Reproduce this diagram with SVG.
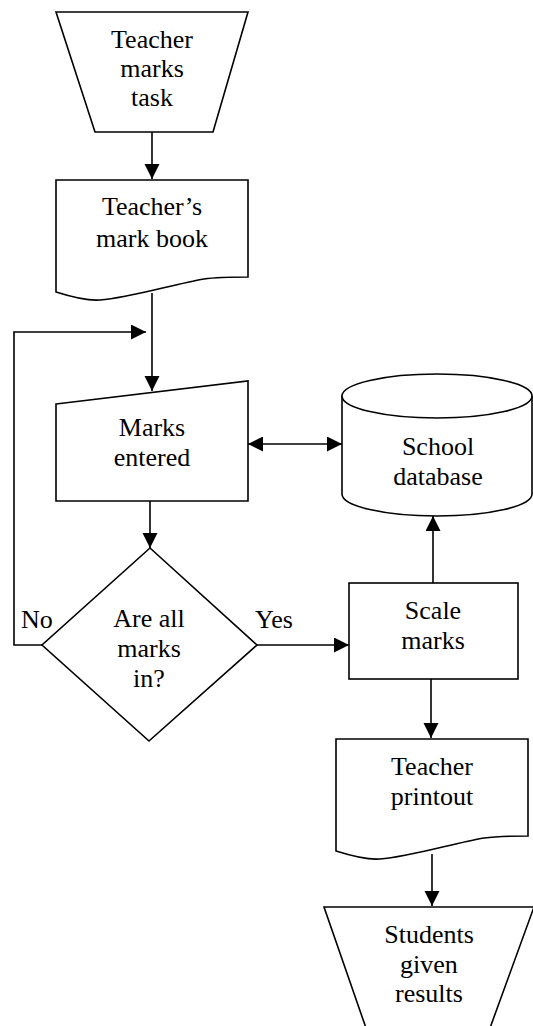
<svg xmlns="http://www.w3.org/2000/svg" width="533" height="1026" viewBox="0 0 533 1026">
  <style>
    .shape { fill: #fff; stroke: #000; stroke-width: 1.6; stroke-linejoin: miter; }
    .line { fill: none; stroke: #000; stroke-width: 1.6; }
    .arrow { marker-end: url(#head); }
    text { font-family: "Liberation Serif", "Times New Roman", serif; font-size: 26px; fill: #000; text-anchor: middle; }
    .lbl { text-anchor: start; }
  </style>
  <defs>
    <marker id="head" markerUnits="userSpaceOnUse" markerWidth="16" markerHeight="16" refX="15" refY="7.5" orient="auto">
      <path d="M0,0 L15,7.5 L0,15 Z" fill="#000"/>
    </marker>
    <marker id="tail" markerUnits="userSpaceOnUse" markerWidth="16" markerHeight="16" refX="0" refY="7.5" orient="auto">
      <path d="M15,0 L0,7.5 L15,15 Z" fill="#000"/>
    </marker>
    <path id="doc" d="M0,0 H192 V97 C177,97 162,97 148,99 C118,104 74,118 44,120 C32,121 19,118 0,112 Z"/>
  </defs>

  <!-- connectors -->
  <g id="connectors">
    <line class="line arrow" x1="152" y1="132" x2="152" y2="179"/>
    <line class="line arrow" x1="152" y1="293" x2="152" y2="391"/>
    <polyline class="line arrow" points="42,645 14,645 14,332 146,332"/>
    <line class="line" x1="248" y1="444" x2="342" y2="444" marker-start="url(#tail)" marker-end="url(#head)"/>
    <line class="line arrow" x1="150" y1="501" x2="150" y2="548"/>
    <line class="line arrow" x1="257" y1="645" x2="349" y2="645"/>
    <line class="line arrow" x1="433" y1="583" x2="433" y2="516"/>
    <line class="line arrow" x1="431" y1="679" x2="431" y2="738"/>
    <line class="line arrow" x1="432" y1="854" x2="432" y2="906"/>
    <text class="lbl" x="21" y="628">No</text>
    <text class="lbl" x="255" y="628">Yes</text>
  </g>

  <!-- manual operation: start -->
  <g id="teacher-marks-task">
    <polygon class="shape" points="56,12 248,12 213,132 95,132"/>
    <text x="152" y="48">Teacher</text>
    <text x="152" y="77">marks</text>
    <text x="152" y="106">task</text>
  </g>

  <!-- document -->
  <g id="mark-book">
    <use href="#doc" class="shape" transform="translate(56,180)"/>
    <text x="152" y="215">Teacher’s</text>
    <text x="152" y="247">mark book</text>
  </g>

  <!-- manual input -->
  <g id="marks-entered">
    <polygon class="shape" points="56,404 248,381 248,501 56,501"/>
    <text x="152" y="436">Marks</text>
    <text x="152" y="466">entered</text>
  </g>

  <!-- stored data -->
  <g id="school-database">
    <path class="shape" d="M342,396 V494 A95,22 0 0 0 532,494 V396"/>
    <ellipse class="shape" cx="437" cy="396" rx="95" ry="22"/>
    <text x="438" y="455">School</text>
    <text x="438" y="485">database</text>
  </g>

  <!-- decision -->
  <g id="all-marks-in">
    <polygon class="shape" points="150,548 257,645 149,741 42,645"/>
    <text x="149" y="627">Are all</text>
    <text x="149" y="657">marks</text>
    <text x="149" y="687">in?</text>
  </g>

  <!-- process -->
  <g id="scale-marks">
    <rect class="shape" x="349" y="583" width="169" height="96"/>
    <text x="433" y="619">Scale</text>
    <text x="433" y="649">marks</text>
  </g>

  <!-- document -->
  <g id="teacher-printout">
    <use href="#doc" class="shape" transform="translate(336,739)"/>
    <text x="432" y="775">Teacher</text>
    <text x="432" y="805">printout</text>
  </g>

  <!-- manual operation: end -->
  <g id="students-given-results">
    <polygon class="shape" points="324,907 534,907 490,1028 366,1028"/>
    <text x="429" y="943">Students</text>
    <text x="429" y="973">given</text>
    <text x="429" y="1002">results</text>
  </g>
</svg>
